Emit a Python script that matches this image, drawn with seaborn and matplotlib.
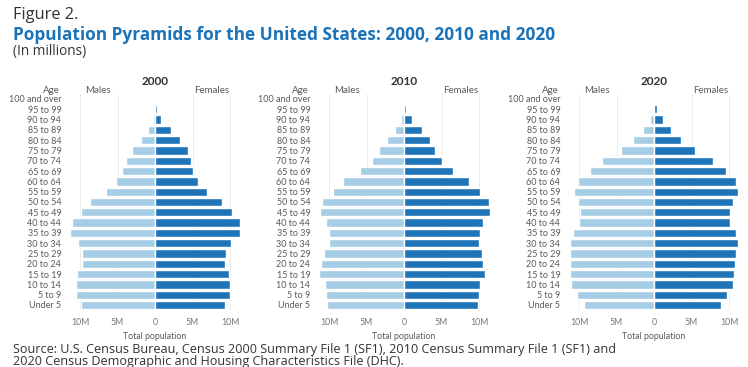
import matplotlib
matplotlib.use("Agg")
import matplotlib.pyplot as plt
import seaborn as sns
import pandas as pd

# age groups, top to bottom
ages = ["100 and over", "95 to 99", "90 to 94", "85 to 89", "80 to 84", "75 to 79",
        "70 to 74", "65 to 69", "60 to 64", "55 to 59", "50 to 54", "45 to 49",
        "40 to 44", "35 to 39", "30 to 34", "25 to 29", "20 to 24", "15 to 19",
        "10 to 14", "5 to 9", "Under 5"]

# population in millions, same order as ages
males_2000 = [0.01, 0.07, 0.29, 0.97, 1.83, 3.04, 3.90, 4.40, 5.14, 6.51, 8.61, 9.89,
              11.13, 11.32, 10.32, 9.80, 9.69, 10.39, 10.52, 10.52, 9.81]
females_2000 = [0.04, 0.26, 0.85, 2.15, 3.28, 4.37, 4.84, 5.13, 5.67, 6.93, 8.90, 10.20,
                11.31, 11.33, 10.14, 9.48, 9.28, 9.83, 9.98, 9.99, 9.37]
males_2010 = [0.01, 0.08, 0.43, 1.23, 2.30, 3.30, 4.27, 5.85, 8.08, 9.52, 10.93, 11.21,
              10.39, 10.04, 9.96, 10.64, 11.02, 11.30, 10.58, 10.39, 10.32]
females_2010 = [0.05, 0.27, 1.02, 2.34, 3.45, 4.19, 5.06, 6.56, 8.72, 10.09, 11.32, 11.43,
                10.50, 10.14, 9.96, 10.46, 10.57, 10.74, 10.09, 9.96, 9.88]
males_2020 = [0.02, 0.13, 0.58, 1.47, 2.76, 4.44, 6.89, 8.58, 10.18, 10.67, 10.18, 9.91,
              10.00, 10.80, 11.20, 11.16, 11.24, 11.24, 11.07, 10.27, 9.33]
females_2020 = [0.09, 0.44, 1.24, 2.31, 3.64, 5.47, 7.91, 9.56, 10.98, 11.24, 10.49, 10.13,
                10.18, 10.93, 11.16, 10.98, 10.80, 10.71, 10.49, 9.78, 8.93]

years = ["2000", "2010", "2020"]
data = {"2000": (males_2000, females_2000),
        "2010": (males_2010, females_2010),
        "2020": (males_2020, females_2020)}

male_color = "#a6cde6"
female_color = "#1f74b7"
text_gray = "#5a5a5a"

sns.set_theme(style="white")
plt.rcParams["font.family"] = ["Lato", "DejaVu Sans"]

W, H = 748, 367
fig = plt.figure(figsize=(W / 100, H / 100), dpi=100)

px_per_m = 7.5
lim = 12.3
zeros = [155, 404, 654]
top_px, bot_px = 93.85, 310.15

for year, zx in zip(years, zeros):
    left = (zx - lim * px_per_m) / W
    width = 2 * lim * px_per_m / W
    ax = fig.add_axes([left, 1 - bot_px / H, width, (bot_px - top_px) / H])
    m, f = data[year]
    df = pd.DataFrame({"age": ages + ages,
                       "pop": [-v for v in m] + f,
                       "sex": ["Males"] * len(ages) + ["Females"] * len(ages)})
    for v in [-10, -5, 5, 10]:
        ax.axvline(v, color="#ededed", lw=0.7, zorder=0)
    sns.barplot(data=df, x="pop", y="age", hue="sex", order=ages,
                palette={"Males": male_color, "Females": female_color},
                orient="h", dodge=False, width=0.8, saturation=1, legend=False,
                ax=ax, zorder=2)
    ax.set_xlim(-lim, lim)
    ax.set_xticks([-10, -5, 0, 5, 10])
    ax.set_xticklabels(["10M", "5M", "0", "5M", "10M"])
    ax.set_xlabel("Total population", fontsize=6.3, color=text_gray, labelpad=3)
    ax.set_ylabel("")
    ax.tick_params(axis="x", length=0, pad=6, labelsize=6.3, labelcolor="#777777")
    ax.tick_params(axis="y", length=0, pad=1, labelsize=6.5, labelcolor=text_gray)
    for s in ax.spines.values():
        s.set_visible(False)
    ax.text(0, 1.059, year, transform=ax.get_xaxis_transform(), ha="center", va="center",
            fontsize=8.5, fontweight="bold", color="#333333")
    ax.text(-7.6, 1.016, "Males", transform=ax.get_xaxis_transform(), ha="center",
            va="center", fontsize=7, color=text_gray)
    ax.text(7.5, 1.016, "Females", transform=ax.get_xaxis_transform(), ha="center",
            va="center", fontsize=7, color=text_gray)
    ax.text(-lim - 0.45, 1.016, "Age", transform=ax.get_xaxis_transform(), ha="right",
            va="center", fontsize=7, color=text_gray)

title_font = ["Open Sans", "DejaVu Sans"]
fig.text(13 / W, 1 - 15 / H, "Figure 2.", fontsize=11.8, color="#333333",
         family=title_font, va="center")
fig.text(13 / W, 1 - 35 / H, "Population Pyramids for the United States: 2000, 2010 and 2020",
         fontsize=12.4, fontweight="bold", color="#1a73b9", family=title_font, va="center")
fig.text(13 / W, 1 - 52 / H, "(In millions)", fontsize=9.8, color="#333333",
         family=title_font, va="center")
fig.text(13 / W, 1 - 349 / H,
         "Source: U.S. Census Bureau, Census 2000 Summary File 1 (SF1), 2010 Census Summary File 1 (SF1) and",
         fontsize=9.1, color="#333333", family=title_font, va="center")
fig.text(13 / W, 1 - 362 / H,
         "2020 Census Demographic and Housing Characteristics File (DHC).",
         fontsize=9.1, color="#333333", family=title_font, va="center")

fig.savefig("out.png", dpi=100)
